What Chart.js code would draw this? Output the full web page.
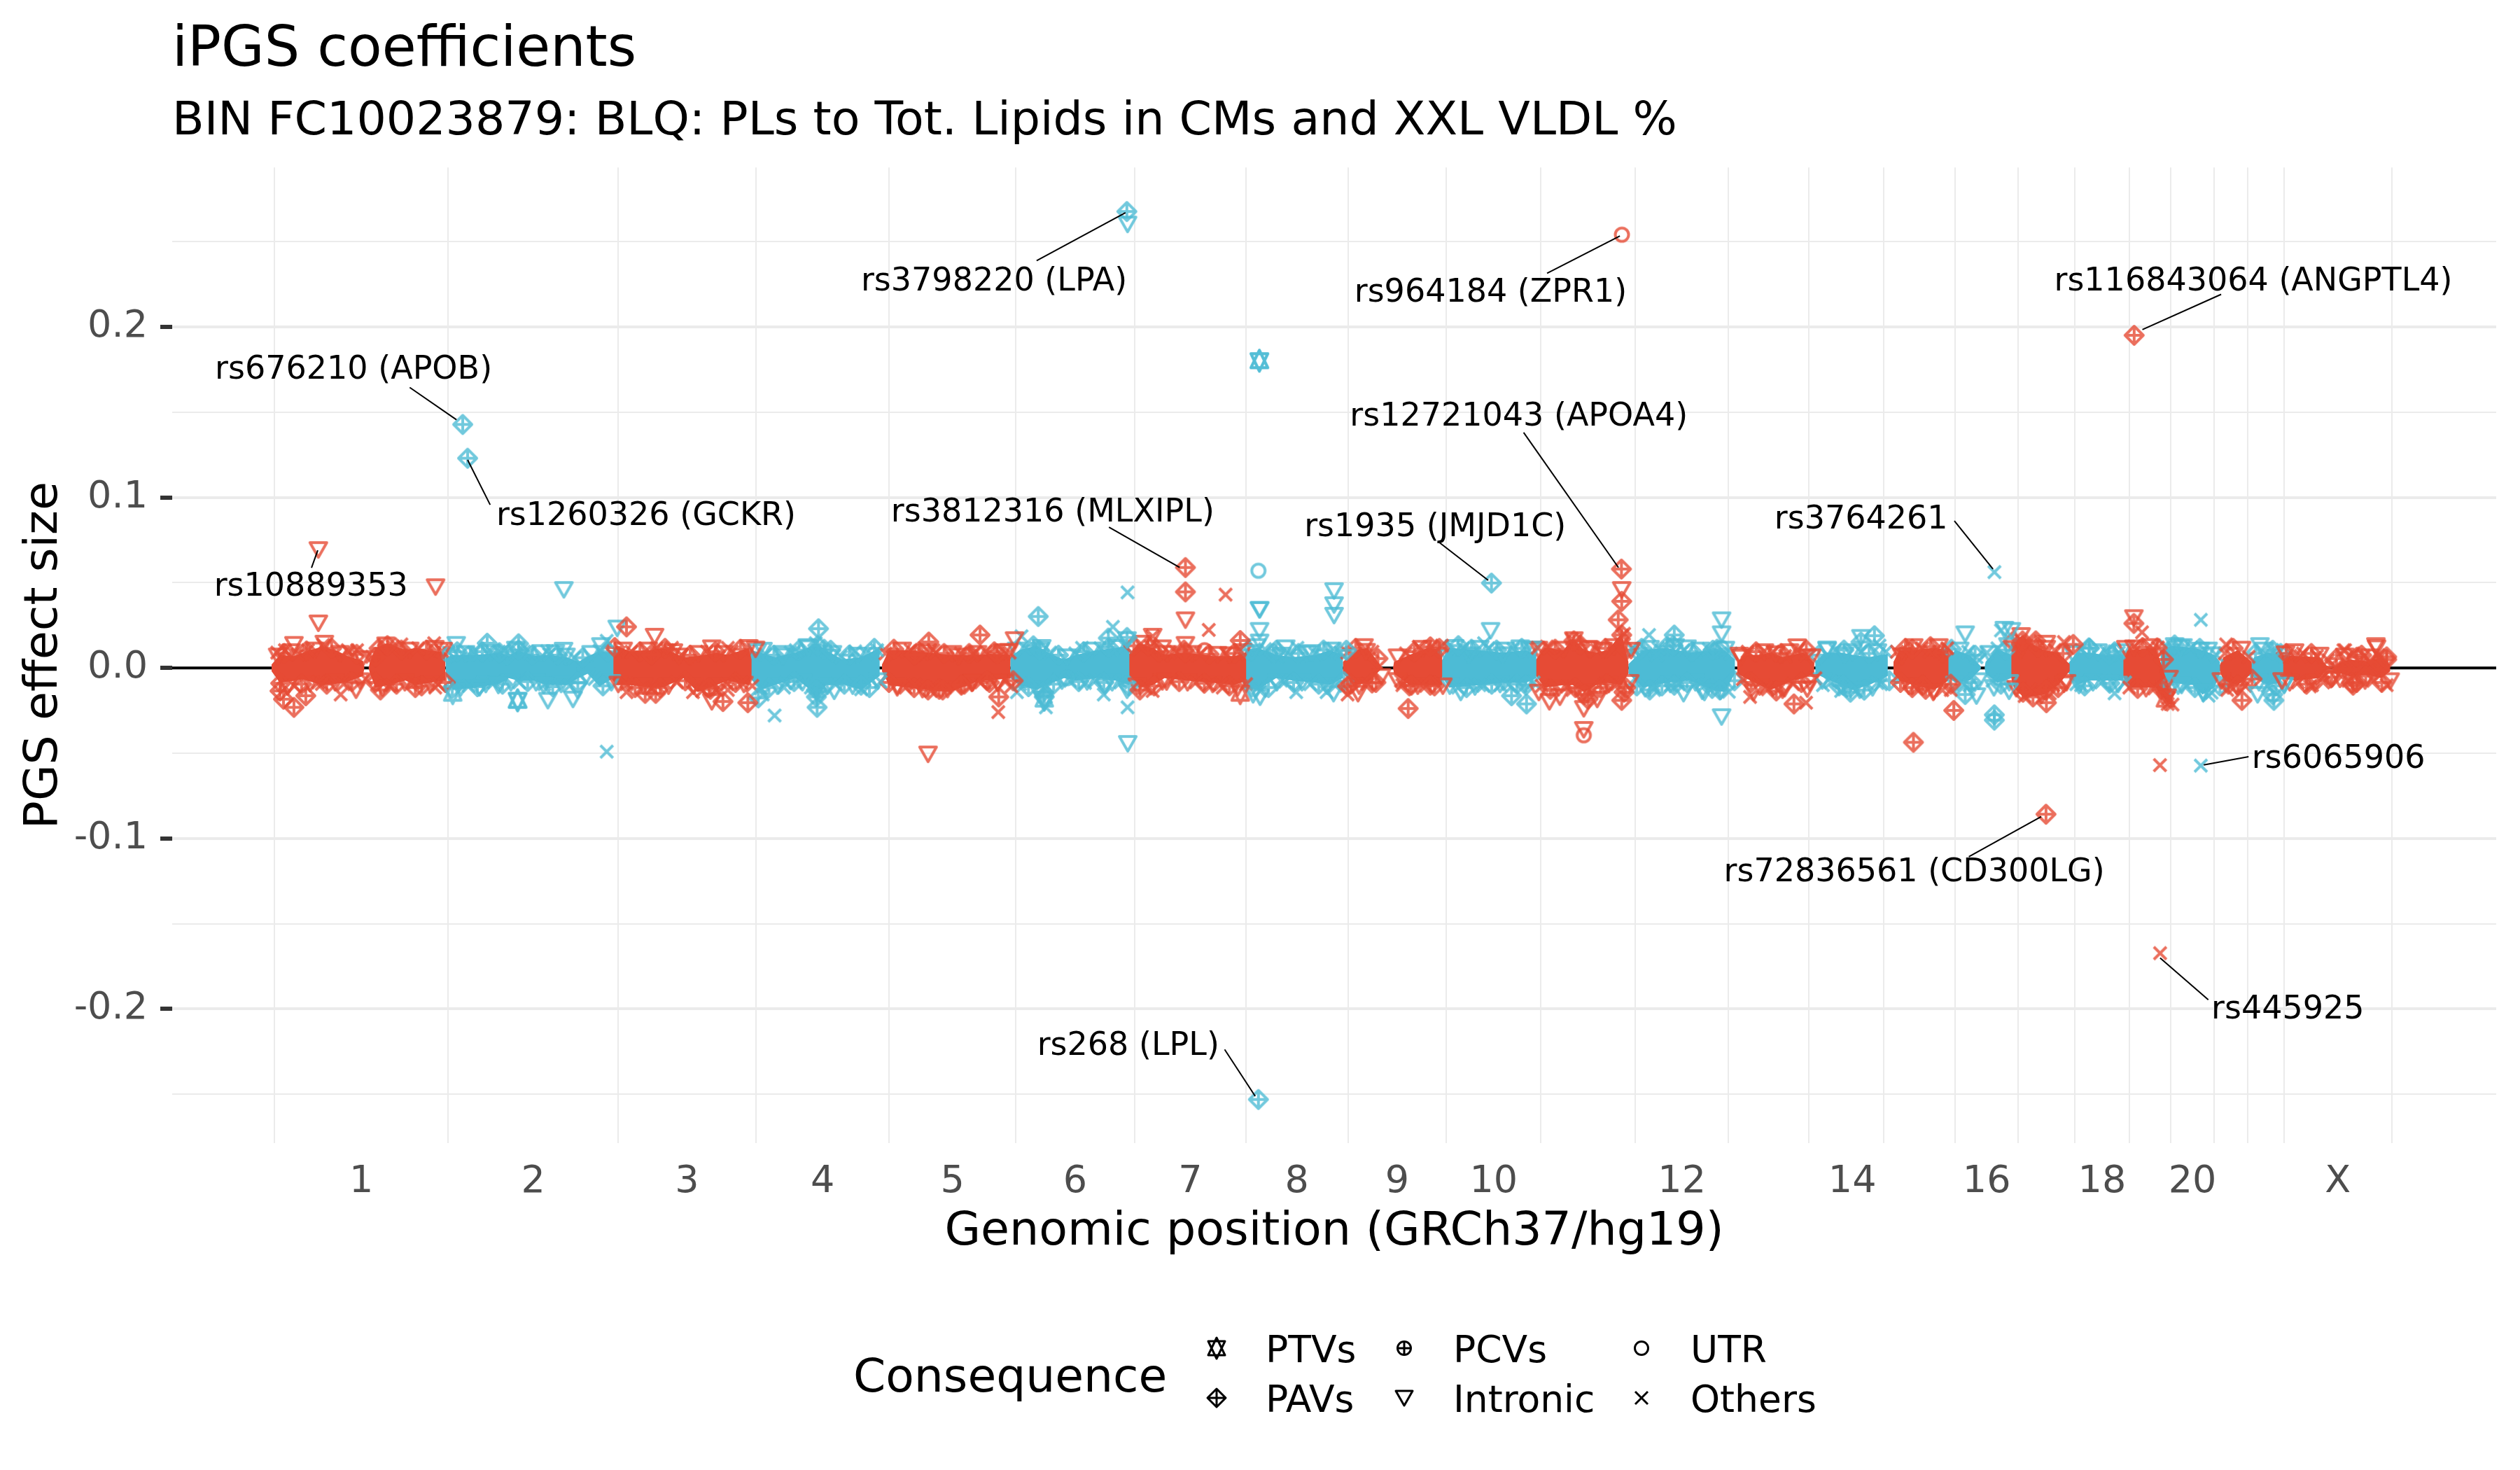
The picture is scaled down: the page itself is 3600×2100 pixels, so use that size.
<!DOCTYPE html>
<html>
<head>
<meta charset="utf-8">
<title>iPGS coefficients</title>
<script src="https://cdn.jsdelivr.net/npm/chart.js@4/dist/chart.umd.min.js"></script>
<style>
  html, body { margin: 0; padding: 0; background: #fff; }
  canvas { display: block; }
</style>
</head>
<body>
<canvas id="chart" width="3600" height="2100"></canvas>
<script>
// x is cumulative genomic position in Mb, y is PGS effect size

const chrBoundaries = [0, 249.25, 492.45, 690.5, 881.5, 1062.4, 1233.5, 1392.6, 1539, 1680, 1815.7,
  1950.7, 2084.6, 2199.7, 2307, 2409.5, 2499.9, 2581, 2659, 2718, 2781, 2829.2, 2880.5, 3035.8];
const chrLabels = ["1", "2", "3", "4", "5", "6", "7", "8", "9", "10", "12", "14", "16", "18", "20", "X"];
const chrLabelPos = [124.6, 370.9, 591.5, 786, 972, 1148, 1313, 1465.8, 1609.5, 1747.9, 2017.7, 2262, 2454.7, 2620, 2749.5, 2958];
const yTicks = [-0.25, -0.2, -0.15, -0.1, -0.05, 0, 0.05, 0.1, 0.15, 0.2, 0.25];
const zeroLineX = [-146.5, 3185];

// dense overplotted core of each chromosome: [pos, upper, lower]
const coreChr1 = [[-4, .002, -.002], [8, .0077, -.0088], [28, .007, -.0074], [41, .009, -.0067], [68, .0125, -.0101], [88, .0104, -.0094], [105, .007, -.0081], [127, .0042, -.0047], [129, 0, 0], [135, 0, 0], [137, .0036, -.0033], [145, .0118, -.0115], [162, .0145, -.0101], [188, .0104, -.0074], [202, .0118, -.0101], [222, .0104, -.0088], [245, .009, -.0074]];
const coreChr2 = [[245.5, .006, -.004], [255.6, .0077, -.0129], [289, .0077, -.0115], [322.5, .009, -.0094], [336, .007, -.006], [349, .0104, -.0074], [372.6, .007, -.0074], [389, .0077, -.0101], [419, .0063, -.0101], [436, .0036, -.006], [449.6, .007, -.0033], [466, .0097, -.0108], [486, .009, -.006]];
const coreChr3 = [[483, .008, -.006], [489.7, .0131, -.0101], [510, .0097, -.0101], [540, .0104, -.0115], [556.6, .0118, -.0115], [586.7, .0063, -.006], [606.8, .007, -.0142], [633.5, .009, -.0101], [650, .0077, -.0074], [680, .0118, -.0101], [684, .005, -.006]];
const coreChr4 = [[682, .0104, -.006], [697, .009, -.0129], [717, .0063, -.0101], [747, .009, -.006], [764, .0118, -.0115], [777, .0145, -.0183], [790.7, .0104, -.0101], [814, .005, -.0094], [841, .0063, -.0129], [867.7, .0118, -.0047]];
const coreChr5 = [[871, .002, -.002], [881, .0104, -.0101], [908, .0104, -.0115], [938, .009, -.0129], [968, .0077, -.0142], [1011.5, .0077, -.0074], [1025, .0083, -.0074], [1055, .0077, -.006]];
const coreChr6 = [[1055, .0063, -.006], [1068, .0104, -.0101], [1092, .0131, -.0129], [1115, .0077, -.0088], [1132, .005, -.006], [1149, .0077, -.0074], [1179, .0104, -.006], [1205.6, .0118, -.0074], [1225.6, .0131, -.0101]];
const coreChr7 = [[1224, .0077, -.0047], [1239, .0145, -.0115], [1259, .0118, -.0101], [1276, .0077, -.006], [1306, .009, -.0074], [1346, .007, -.0088], [1376, .007, -.0101], [1393, .009, -.0074]];
const coreChr8 = [[1381, .001, -.001], [1393, .0104, -.0115], [1409.6, .0118, -.0129], [1436, .0077, -.006], [1460, .0063, -.0074], [1493, .0077, -.0088], [1513, .0104, -.0101], [1531.7, .0077, -.006]];
const coreChr9 = [[1531.7, .0036, -.0033], [1550, .0104, -.0101], [1567, .0118, -.0088], [1587, .0008, -.0005], [1590, 0, 0], [1603.6, 0, 0], [1605, .0036, -.0033], [1627, .0077, -.0101], [1654, .0118, -.0101], [1674, .0104, -.0101]];
const coreChr10 = [[1670.5, .0022, -.0033], [1684, .0118, -.0115], [1727, .0104, -.0101], [1761, .009, -.0088], [1794, .0104, -.0088], [1809, .0077, -.006]];
const coreChr11 = [[1806, .0036, -.0033], [1821, .0118, -.0115], [1848, .0104, -.0101], [1861, .0172, -.0101], [1878, .0104, -.0142], [1894.6, .009, -.0101], [1911, .0104, -.0088], [1931, .02, -.0101], [1941, .0036, -.0033]];
const coreChr12 = [[1941, .0022, -.0033], [1961.5, .0104, -.0115], [1995, .0118, -.0088], [2028, .009, -.0074], [2062, .0104, -.0129], [2078.6, .0104, -.0142], [2093.7, .005, -.0033]];
const coreChr13 = [[2097, .0036, -.0033], [2109, .0077, -.006], [2129, .0077, -.0101], [2145.5, .009, -.0129], [2162, .0063, -.0101], [2175.6, .0077, -.0074], [2192, .009, -.006], [2207.4, .0029, -.0033]];
const coreChr14 = [[2209, .0036, -.0033], [2222.5, .009, -.006], [2246, .009, -.0101], [2262.6, .0077, -.0129], [2286, .0063, -.0101], [2312.8, .0083, -.0047]];
const coreChr15 = [[2321, .0036, -.0033], [2329.5, .0104, -.0074], [2349.6, .0104, -.0101], [2379.7, .0118, -.0129], [2399.8, .0104, -.0074]];
const coreChr16 = [[2396.4, .005, -.0047], [2409.8, .0104, -.0088], [2430, .0077, -.0074], [2445, .0015, -.0012], [2446.6, 0, 0], [2451.6, 0, 0], [2453, .0036, -.0033], [2470, .0111, -.0088], [2490, .0077, -.006]];
const coreChr17 = [[2486.7, .001, -.001], [2493.4, .0159, -.0115], [2506.8, .0193, -.017], [2516.8, .0145, -.017], [2536.8, .0104, -.0156], [2557, .009, -.0101], [2573.6, .0022, -.0019]];
const coreChr18 = [[2568, .0008, -.0005], [2583.7, .009, -.0101], [2600, .009, -.0074], [2623.8, .0077, -.0074], [2650.6, .0077, -.0074]];
const coreChr19 = [[2647, .0022, -.0019], [2657, .0104, -.0115], [2697, .0118, -.0115], [2705, .002, -.016], [2715, -.010, -.021], [2720, -.018, -.022]];
const coreChr20 = [[2704, .0077, -.006], [2717.5, .0131, -.0088], [2751, .0118, -.0101], [2764, .0104, -.0156], [2781, .0077, -.0115], [2789, .0036, -.0033]];
const coreChr21 = [[2787.7, .0008, -.0005], [2794, .0063, -.0074], [2814.5, .0104, -.0101], [2834.5, .0036, -.0033]];
const coreChr22 = [[2833, .0015, -.0015], [2838, .0063, -.006], [2858, .009, -.0101], [2874.7, .0077, -.0088], [2879.7, .0022, -.0033]];
const coreChrX = [[2874.7, .001, -.001], [2878, .0077, -.006], [2898, .007, -.0074], [2931.5, .0063, -.006], [2941.6, .0015, -.0012], [2951.6, 0, 0], [2960, .003, -.003], [2975, .005, -.005], [3000, .004, -.004], [3020, .006, -.006], [3033, .002, -.002]];
const coreChromosomes = [coreChr1, coreChr2, coreChr3, coreChr4, coreChr5, coreChr6, coreChr7, coreChr8, coreChr9, coreChr10, coreChr11, coreChr12,
  coreChr13, coreChr14, coreChr15, coreChr16, coreChr17, coreChr18, coreChr19, coreChr20, coreChr21, coreChr22, coreChrX];

// markers along the rim of each core: [pos, upper variant, lower variant]
const edgeRed = [
  [4, .009, -.009], [14, .0085, -.011], [24, .0095, -.0105], [34, .008, -.0095], [46, .010, -.009], [58, .0105, -.0085], [70, .0135, -.0095], [82, .0115, -.0085], [94, .0085, -.0095], [106, .0095, -.008], [118, .008, -.0075], [126, .0055, -.0065],
  [140, .0065, -.0085], [150, .0115, -.0115], [160, .0135, -.0105], [170, .0125, -.0095], [182, .0105, -.0085], [194, .0105, -.009], [206, .0115, -.0105], [218, .0105, -.0095], [230, .0115, -.0095], [240, .010, -.0085],
  [488, .012, -.0095], [500, .0105, -.0095], [512, .0095, -.0115], [524, .0095, -.0105], [536, .0105, -.012], [548, .0115, -.0115], [560, .0115, -.0105], [572, .0095, -.0085], [584, .0075, -.0075], [596, .0075, -.0105], [608, .0085, -.0135], [620, .0095, -.0125], [632, .0095, -.0105], [644, .0085, -.0095], [656, .0095, -.0085], [668, .011, -.0095], [680, .012, -.0105],
  [876, .0085, -.0085], [888, .011, -.0105], [900, .0105, -.0115], [912, .0105, -.0115], [924, .0095, -.0125], [936, .0095, -.0135], [948, .009, -.0125], [960, .0085, -.0125], [972, .0085, -.0115], [984, .0085, -.0095], [996, .0085, -.0085], [1008, .0085, -.0085], [1020, .0095, -.0085], [1032, .0095, -.0085], [1044, .0095, -.0075], [1054, .009, -.0075],
  [1232, .013, -.0105], [1244, .0145, -.012], [1256, .0125, -.0105], [1268, .0095, -.008], [1280, .0085, -.0075], [1292, .0095, -.008], [1304, .0105, -.0085], [1316, .0085, -.0085], [1328, .0085, -.009], [1340, .008, -.0095], [1352, .008, -.0095], [1364, .0085, -.0105], [1376, .0085, -.0115], [1388, .0095, -.0095],
  [1538, .009, -.0095], [1550, .0115, -.0105], [1562, .0125, -.0095], [1574, .0095, -.0085], [1582, .0055, -.005], [1610, .0065, -.0075], [1622, .0085, -.0105], [1634, .0095, -.0105], [1646, .0115, -.0105], [1658, .0125, -.0105], [1670, .0115, -.0105],
  [1812, .011, -.0105], [1824, .0125, -.0125], [1836, .011, -.0115], [1848, .011, -.011], [1860, .017, -.0115], [1872, .0135, -.014], [1884, .0115, -.014], [1896, .0105, -.0115], [1908, .0115, -.0095], [1920, .0125, -.0095], [1932, .019, -.0115], [1938, .0105, -.0085],
  [2100, .0075, -.0065], [2112, .0095, -.0085], [2124, .0095, -.011], [2136, .0095, -.0125], [2148, .0095, -.0135], [2160, .0085, -.012], [2172, .0095, -.0095], [2184, .0105, -.0085], [2196, .0105, -.0085], [2204, .0065, -.006],
  [2326, .0095, -.0085], [2338, .0115, -.0105], [2350, .0125, -.012], [2362, .0115, -.0125], [2374, .0125, -.0135], [2386, .0125, -.013], [2398, .0115, -.0095],
  [2492, .0155, -.012], [2504, .019, -.0165], [2516, .0155, -.017], [2528, .012, -.016], [2540, .0115, -.015], [2552, .0105, -.0115], [2564, .0085, -.0085],
  [2654, .0115, -.0115], [2666, .0125, -.012], [2678, .012, -.012], [2690, .0125, -.012], [2700, .012, -.0125], [2708, .005, -.017], [2716, -.006, -.0215],
  [2796, .0085, -.0095], [2808, .0115, -.0105], [2820, .011, -.0105], [2830, .0065, -.0065],
  [2884, .0085, -.0085], [2896, .0095, -.0085], [2908, .0085, -.0095], [2920, .0085, -.0085], [2932, .0075, -.0085], [2944, .0045, -.0055], [2956, .0055, -.0065], [2968, .007, -.0075], [2980, .0085, -.0085], [2992, .0075, -.0075], [3004, .0065, -.0075], [3016, .0075, -.0085], [3028, .0065, -.0075],
];
const edgeBlue = [
  [250, .009, -.012], [262, .0095, -.0115], [274, .0085, -.0105], [286, .009, -.011], [298, .0095, -.0095], [310, .009, -.0085], [322, .0095, -.0095], [334, .0075, -.0085], [346, .011, -.0085], [358, .0095, -.008], [370, .0075, -.0085], [382, .009, -.0095], [394, .008, -.011], [406, .0075, -.0095], [418, .007, -.0105], [430, .006, -.0085], [442, .006, -.0045], [454, .0085, -.0065], [466, .010, -.0105], [478, .0095, -.0085],
  [692, .0095, -.012], [704, .008, -.0115], [716, .0075, -.0105], [728, .0085, -.009], [740, .009, -.008], [752, .0105, -.0085], [764, .0125, -.0115], [776, .0145, -.014], [788, .011, -.0105], [800, .0085, -.0095], [812, .0065, -.0095], [824, .0075, -.0105], [836, .0075, -.0125], [848, .0085, -.0115], [860, .0115, -.0075],
  [1064, .0105, -.0095], [1076, .0115, -.011], [1088, .013, -.0125], [1100, .012, -.012], [1112, .009, -.0095], [1124, .0075, -.0075], [1136, .0065, -.0075], [1148, .0085, -.008], [1160, .0095, -.008], [1172, .0105, -.0075], [1184, .0115, -.0085], [1196, .012, -.0085], [1208, .012, -.0085], [1220, .0125, -.0105],
  [1396, .0105, -.012], [1408, .0125, -.0135], [1420, .011, -.0115], [1432, .0085, -.0085], [1444, .0075, -.008], [1456, .0075, -.0085], [1468, .0085, -.0085], [1480, .0085, -.0095], [1492, .0085, -.0095], [1504, .0105, -.0105], [1516, .0105, -.0105], [1528, .009, -.008],
  [1680, .0105, -.0105], [1692, .012, -.0115], [1704, .0115, -.0115], [1716, .011, -.011], [1728, .0115, -.0105], [1740, .0115, -.0095], [1752, .0105, -.0095], [1764, .0105, -.0095], [1776, .011, -.0095], [1788, .0115, -.0095], [1800, .0105, -.0085],
  [1948, .0105, -.0105], [1960, .0115, -.012], [1972, .0115, -.0115], [1984, .0115, -.0105], [1996, .0125, -.0095], [2008, .0125, -.0095], [2020, .0105, -.0085], [2032, .0095, -.0085], [2044, .0105, -.0105], [2056, .011, -.012], [2068, .011, -.0135], [2080, .011, -.014], [2088, .0085, -.0075],
  [2214, .0075, -.0075], [2226, .0105, -.0085], [2238, .0105, -.0105], [2250, .0105, -.012], [2262, .0095, -.0135], [2274, .0095, -.013], [2286, .0085, -.0115], [2298, .0095, -.0095], [2310, .0095, -.0075],
  [2404, .011, -.0095], [2416, .0105, -.0095], [2428, .0095, -.0085], [2438, .0075, -.0075], [2458, .0085, -.0075], [2470, .0115, -.0095], [2482, .0105, -.0085],
  [2578, .0085, -.0095], [2590, .0105, -.0105], [2602, .0115, -.0085], [2614, .0095, -.0085], [2626, .0095, -.009], [2638, .0095, -.0095], [2648, .0095, -.0085],
  [2712, .0125, -.0095], [2724, .0135, -.0105], [2736, .0125, -.0105], [2748, .012, -.0115], [2760, .0115, -.0145], [2772, .0105, -.0145], [2784, .0075, -.0105],
  [2840, .0085, -.0085], [2852, .0105, -.0105], [2864, .0105, -.0105], [2876, .0085, -.0095],
];
const edgeShapes = ["other", "pav", "intronic"];

// red chromosomes (odd, plus X): [pos, effect]
const redPAVs = [[28, -.0231], [13, -.0183], [8, -.0135], [45, -.0163], [162, .0131], [152, -.0129], [202, -.0115], [145, .0063],
  [504.8, .0241], [531.5, -.0149], [643, -.0197], [678.7, -.0204], [540, .0077], [623, -.0115], [546.6, -.0149],
  [938, .0152], [937, -.0129], [1011.5, .0193], [958, -.0129], [984.8, -.0101], [918, .0077], [1038.3, -.017], [1021.6, -.0074], [1036, .0083],
  [1306, .0589], [1306, .0446], [1384.5, .0161], [1240.7, -.0129], [1252.4, .0131], [1306, .009],
  [1625.3, -.0238], [1657.1, .0124], [1630, -.0101], [1657, -.0101], [1573.5, -.0088], [1538.4, -.0108],
  [1931, .058], [1931.4, .0391], [1926.4, .0282], [1931.4, .0193], [1931.4, -.019], [1934.7, -.0142], [1862.8, .0159], [1878, -.0156], [1883, -.0183], [1909.7, -.0094],
  [2178.3, -.0211], [2347.9, .0111], [2349.6, -.0436], [2407.4, -.0249], [2347.9, -.0115], [2391.4, .009], [2363, -.0101],
  [2539.6, -.0858], [2506, .0159], [2525, .0159], [2540.2, -.0204], [2506.7, -.0142], [2578.7, .0138], [2540, -.0129],
  [2666, .1951], [2665.6, .0261], [2699, .0118], [2820.5, -.019], [2814.5, -.0101],
  [2978.4, -.0088], [2985, .0063], [3015, .0036], [2965, -.0005], [2998, -.0047], [3028, .0049], [2979.8, -.0101]];
const redIntronic = [[63, .0694], [63, .0264], [231, .0476], [28, .0138], [71.6, .0145], [4.7, .007], [117, -.0129], [242, .0104],
  [545, .0186], [627, .0118], [689.7, .0111], [627, -.0197], [580, .007], [892.8, -.0115], [937, -.0505], [980.8, .007], [999.8, -.0088],
  [1061, .0166], [1053, .0097], [1000, -.0088], [1036.7, -.0088], [1306, .0282], [1306, .0138], [1259, .0186], [1272.5, .0118], [1369.5, .0077], [1279, -.0081],
  [1565, .0097], [1553.4, -.0149], [1610.3, -.0074], [1931.4, .046], [1862.8, .0166], [1886.2, .0111], [1877, -.0238], [1877, -.0361], [1827.7, -.0197], [1842.8, -.017], [1812.6, -.0142], [1896.3, -.0183], [1944.8, .0104], [1904.6, .0104],
  [2183, .0124], [2152, .0083], [2102, .0063], [2197.4, -.0122], [2120.4, -.0142], [2162, -.0129], [2378, -.0142], [2332.8, .007],
  [2540, .0145], [2565.3, -.0094], [2503, .0104], [2665.6, .0295], [2665.6, .0118], [2791, -.0074], [2883, .0083], [3013.5, .0118], [2948, -.0067], [2878, -.0074], [2950, -.006], [3012.5, .0131]];
const redOthers = [[95, -.0156], [105, .0104], [118.5, .0104], [68, -.0094], [48, .0104], [15, .0104], [229, .0145], [182, .0138], [168.6, -.0101], [230.5, -.0115],
  [504.8, -.0142], [563.3, .0104], [650, .0118], [600, -.0142], [650, -.0129], [633.5, -.0129], [670, -.0088], [570, .0118], [944.6, .0104], [1004.8, .009], [918, -.0101],
  [1037.7, -.0259], [1056.7, -.0108], [1001.5, .0083], [1363.5, .043], [1339.4, .0223], [1259, .0186], [1259, -.0135], [1339.4, -.0101], [1359.5, -.0115], [1282.5, .009],
  [1640.4, .0124], [1673.8, .0131], [1538.4, -.0156], [1617, -.0101], [1811, .0118], [1934.7, .02], [1861, -.0129], [1827.7, .0118],
  [2115.4, -.017], [2195.7, -.0204], [2112, .0083], [2155.6, -.0129], [2135.5, .0097], [2195.7, .0077], [2165.6, .007], [2138.8, -.0115], [2403, -.0129], [2373, .0097],
  [2565.3, .0152], [2516.8, -.0129], [2550, -.0101], [2677.3, .0209], [2714, -.0211], [2715.8, -.0176], [2703, -.057], [2703.2, -.1673], [2797.8, .0138], [2799.4, -.0129],
  [2968.4, .0104], [2918, -.0108], [2935, -.006], [2904.8, .007], [2995, .007], [2928, .007], [2948, .0015], [3005, .0036], [3028, -.0101], [2966, .0104], [2921, -.0101]];
const redUTR = [[1931.7, .2541], [1333.4, .0104], [1877, -.0395]];
const redPTVs = [[1384.5, -.0149], [2710.8, -.0183]];

// blue chromosomes (even): [pos, effect]
const bluePAVs = [[1222, .2677], [270, .1428], [277, .123], [305, .0145], [350, .0142], [350, .0104], [322.5, .009],
  [780, .023], [779, .0131], [777, -.0129], [777, -.017], [778, -.0231], [693.7, -.0176], [841, -.0101], [797.4, .0104],
  [1095, .0302], [1096.9, .0104], [1103.6, -.017], [1102, -.0142], [1195.5, .0175], [1222.3, .0179], [1410.6, -.2531], [1436.4, .0104], [1536.7, .0104],
  [1744.7, .0498], [1697.2, .0131], [1773.5, -.0163], [1794.9, -.0211], [1794, -.0101],
  [1954.8, .0097], [2006.7, .0193], [2005, .0131], [2006.7, -.0101], [1971.5, -.0129], [2062, .0104], [2072, -.0129],
  [2293.7, .0189], [2274.3, .0152], [2259.3, -.0142], [2249, -.0101], [2423.8, -.0156], [2465.6, -.0275], [2465.6, -.0306],
  [2601, .0118], [2630.5, .0077], [2864.6, .0104], [2866.3, -.019], [2864.6, -.0156]];
const blueIntronic = [[1223, .2603], [415, .046], [260.6, .0138], [392, -.019], [428, -.0183], [434.6, -.0129], [491.4, .0234], [468, .0131], [321, -.0101], [386, -.0101], [414.5, .0104], [402.8, .009], [294, -.0115],
  [765.7, .0118], [802.5, -.0135], [700.4, .0104], [728.9, .007], [1098, .0104], [1103.6, -.0204], [1190.5, -.0108], [1222.3, -.0129], [1222.3, .0166], [1223.3, -.0443],
  [1412.3, .0343], [1412.3, .0343], [1412.3, .022], [1412.3, .0152], [1401.3, .009], [1449.8, .0118], [1486.6, .009], [1413, -.017], [1403, -.0156], [1519, .0453], [1519, .0371], [1519, .0309], [1518.3, -.0149],
  [1743.4, .022], [1785.9, .0118], [1700.6, -.0142], [1804.3, .0111], [1712.3, .0077], [1760.8, .0077],
  [2074.6, .0282], [2074.6, .02], [2074.6, -.0286], [2020, -.0149], [2046.8, -.0135], [2025, .0118], [2050, -.0142],
  [2225.8, .0111], [2274.3, .0179], [2250.9, .0077], [2272.6, -.0129], [2423.8, .02], [2439.9, -.0163], [2465, -.0115], [2486.7, -.0135], [2480, .0227], [2490, .022], [2485, .0131],
  [2630.5, -.0088], [2587, -.0101], [2724, .0131], [2734, -.0101], [2764.3, -.0142], [2732.5, .0118], [2761, .0104], [2777.7, .0077], [2846.3, .0131], [2843, -.0156], [2881, -.0101]];
const blueOthers = [[476.4, .0159], [391, .0097], [329, .0104], [476.4, -.0491], [366, .009],
  [717, -.0279], [730.5, -.0115], [832.6, .0097], [864, .0104], [747.3, .0104], [700, -.0156], [869, -.0081], [747, -.0088],
  [1223, .0443], [1202, .0241], [1071, .0186], [1064.4, -.0142], [1157.7, .0118], [1106, -.0231], [1188.9, -.0156], [1223, -.0231], [1162, -.0088],
  [1464.8, -.0142], [1466.5, .0118], [1508.3, -.0142], [1443, -.0074], [1518.3, .0111], [1734, .0145], [1727.4, -.0101], [1757.5, -.0101],
  [1970.5, .0193], [1981.6, .0077], [1978, -.0129], [2001.7, -.0101], [2219.8, -.0101], [2301, .0131], [2297.7, -.0088], [2245.9, -.0135],
  [2465.7, .0562], [2475, .022], [2439.9, .0063], [2455, .009], [2430, -.0101], [2637.9, -.0149], [2643.9, .009], [2590, -.0101],
  [2761.6, .0282], [2761.6, -.0573], [2772.7, -.0163]];
const blueUTR = [[1410.6, .057], [250.6, .0077], [1136.3, -.006], [2074.6, .0118]];
const bluePTVs = [[1412, .1802], [1412, .1802], [348.6, -.019], [348.6, -.019], [255.6, -.0149], [1103.6, -.0183]];
const bluePCVs = [[280.7, .0083]];

// gene labels of the annotated variants
const annotTexts = ["rs3798220 (LPA)", "rs964184 (ZPR1)", "rs116843064 (ANGPTL4)", "rs676210 (APOB)", "rs1260326 (GCKR)", "rs10889353", "rs3812316 (MLXIPL)",
  "rs1935 (JMJD1C)", "rs12721043 (APOA4)", "rs3764261", "rs6065906", "rs72836561 (CD300LG)", "rs445925", "rs268 (LPL)"];
const annotAnchors = [[1031.6, .2276], [1743.5, .221], [2836.8, .2276], [113.5, .1758], [532.8, .09], [52.4, .0485], [1115.7, .0919],
  [1664, .0834], [1783.9, .1484], [2274.6, .0881], [2958.9, -.0523], [2350.7, -.1192], [2886.3, -.1993], [1224, -.221]];
const annotLeaderFrom = [[1220, .267], [1928.8, .2533], [2677.8, .1984], [261, .1456], [277, .122], [62.2, .069], [1297.7, .0589],
  [1740, .0514], [1926.7, .0589], [2463.6, .058], [2765.7, -.0569], [2532.7, -.0872], [2703.2, -.1701], [1406, -.2512]];
const annotLeaderTo = [[1092.7, .2389], [1824.4, .2315], [2790.7, .2191], [194, .1645], [309.3, .0957], [53.2, .0587], [1196.4, .0825],
  [1668.7, .074], [1790.8, .1381], [2408.3, .0862], [2830, -.0521], [2429, -.1107], [2772.3, -.1946], [1362.2, -.2238]];

const legendLabels = [["PTVs", "PAVs"], ["PCVs", "Intronic"], ["UTR", "Others"]];
const legendShapes = [["ptv", "pav"], ["pcv", "intronic"], ["utr", "other"]];

const RED = "#E64B35";
const BLUE = "#4DBBD5";
const FONT = "'DejaVu Sans'";

// ggplot shapes as canvas point styles
function makeMarker(shape, color, alpha, lineWidth) {
  const c = document.createElement("canvas");
  c.width = 40;
  c.height = 40;
  const g = c.getContext("2d");
  g.translate(20, 20);
  g.globalAlpha = alpha;
  g.strokeStyle = color;
  g.lineWidth = lineWidth;
  g.lineJoin = "round";
  g.beginPath();
  if (shape === "pav") {
    g.moveTo(0, -13); g.lineTo(13, 0); g.lineTo(0, 13); g.lineTo(-13, 0); g.closePath();
    g.moveTo(0, -13); g.lineTo(0, 13);
    g.moveTo(-13, 0); g.lineTo(13, 0);
  } else if (shape === "ptv") {
    g.moveTo(-12, -10); g.lineTo(12, -10); g.lineTo(0, 15); g.closePath();
    g.moveTo(-12, 10); g.lineTo(12, 10); g.lineTo(0, -15); g.closePath();
  } else if (shape === "pcv") {
    g.arc(0, 0, 9.5, 0, Math.PI * 2);
    g.moveTo(0, -9.5); g.lineTo(0, 9.5);
    g.moveTo(-9.5, 0); g.lineTo(9.5, 0);
  } else if (shape === "intronic") {
    g.moveTo(-12, -10); g.lineTo(12, -10); g.lineTo(0, 11); g.closePath();
  } else if (shape === "utr") {
    g.arc(0, 0, 9.5, 0, Math.PI * 2);
  } else {
    g.moveTo(-9, -9); g.lineTo(9, 9);
    g.moveTo(-9, 9); g.lineTo(9, -9);
  }
  g.stroke();
  return c;
}

function markerDataset(values, shape, color) {
  return {
    data: values.map((v) => ({ x: v[0], y: v[1] })),
    pointStyle: makeMarker(shape, color, 0.8, 4),
    pointRadius: 14,
    showLine: false,
    order: 1,
  };
}

// splits a rim list into upper and lower variants per shape
function edgeDatasets(edge, color) {
  return edgeShapes.map((shape, s) => {
    const picked = [];
    edge.forEach((e, i) => {
      if (i % 3 === s) picked.push([e[0], e[1]]);
      if ((i + 1) % 3 === s) picked.push([e[0] + 5, e[2]]);
    });
    return markerDataset(picked, shape, color);
  });
}

const datasets = [
  markerDataset(redPAVs, "pav", RED),
  markerDataset(redIntronic, "intronic", RED),
  markerDataset(redOthers, "other", RED),
  markerDataset(redUTR, "utr", RED),
  markerDataset(redPTVs, "ptv", RED),
  markerDataset(bluePAVs, "pav", BLUE),
  markerDataset(blueIntronic, "intronic", BLUE),
  markerDataset(blueOthers, "other", BLUE),
  markerDataset(blueUTR, "utr", BLUE),
  markerDataset(bluePTVs, "ptv", BLUE),
  markerDataset(bluePCVs, "pcv", BLUE),
  ...edgeDatasets(edgeRed, RED),
  ...edgeDatasets(edgeBlue, BLUE),
];

// core bands, closed as polygons: upper edge forward, lower edge back
coreChromosomes.forEach((stops, i) => {
  const upper = stops.map((s) => ({ x: s[0], y: s[1] }));
  const lower = stops.map((s) => ({ x: s[0], y: s[2] })).reverse();
  datasets.push({
    data: upper.concat(lower),
    showLine: true,
    fill: "shape",
    backgroundColor: i % 2 === 0 ? RED : BLUE,
    borderWidth: 0,
    pointRadius: 0,
    tension: 0,
    order: 2,
  });
});

datasets.push({
  data: zeroLineX.map((x) => ({ x: x, y: 0 })),
  showLine: true,
  borderColor: "#000",
  borderWidth: 4,
  pointRadius: 0,
  order: 3,
});

const annotationPlugin = {
  id: "annotations",
  afterDatasetsDraw(chart) {
    const { ctx, scales: { x, y } } = chart;
    ctx.save();
    ctx.strokeStyle = "#000";
    ctx.lineWidth = 2;
    annotLeaderFrom.forEach((from, i) => {
      const to = annotLeaderTo[i];
      ctx.beginPath();
      ctx.moveTo(x.getPixelForValue(from[0]), y.getPixelForValue(from[1]));
      ctx.lineTo(x.getPixelForValue(to[0]), y.getPixelForValue(to[1]));
      ctx.stroke();
    });
    ctx.fillStyle = "#000";
    ctx.font = "46px " + FONT;
    ctx.textAlign = "center";
    ctx.textBaseline = "middle";
    annotTexts.forEach((text, i) => {
      ctx.fillText(text, x.getPixelForValue(annotAnchors[i][0]), y.getPixelForValue(annotAnchors[i][1]) + 3);
    });
    ctx.restore();
  },
};

const legendPlugin = {
  id: "consequenceLegend",
  afterDraw(chart) {
    const ctx = chart.ctx;
    const rows = [1926, 1997];
    const markerX = [1738, 2006, 2345];
    const textX = [1808, 2076, 2415];
    ctx.save();
    ctx.fillStyle = "#000";
    ctx.textBaseline = "middle";
    ctx.textAlign = "left";
    ctx.font = "66.3px " + FONT;
    ctx.fillText("Consequence", 1219, 1971);
    ctx.font = "53.5px " + FONT;
    legendLabels.forEach((col, c) => {
      col.forEach((label, r) => {
        const marker = makeMarker(legendShapes[c][r], "#000", 1, 3);
        ctx.drawImage(marker, markerX[c] - 20, rows[r] - 20);
        ctx.fillText(label, textX[c], rows[r] + 6);
      });
    });
    ctx.restore();
  },
};

new Chart(document.getElementById("chart"), {
  type: "scatter",
  data: { datasets: datasets },
  plugins: [annotationPlugin, legendPlugin],
  options: {
    responsive: false,
    animation: false,
    devicePixelRatio: 1,
    layout: { padding: { left: 0, right: 34, top: 0, bottom: 297 } },
    plugins: {
      legend: { display: false },
      tooltip: { enabled: false },
      title: {
        display: true,
        text: "iPGS coefficients",
        align: "start",
        fullSize: false,
        color: "#000",
        font: { family: FONT, size: 79.5, weight: "normal" },
        padding: { top: 26, bottom: 0 },
      },
      subtitle: {
        display: true,
        text: "BIN FC10023879: BLQ: PLs to Tot. Lipids in CMs and XXL VLDL %",
        align: "start",
        fullSize: false,
        color: "#000",
        font: { family: FONT, size: 66.6, weight: "normal" },
        padding: { top: 13, bottom: 25 },
      },
    },
    scales: {
      x: {
        type: "linear",
        min: zeroLineX[0],
        max: zeroLineX[1],
        afterFit(axis) { axis.height = 170; },
        afterBuildTicks(axis) {
          axis.ticks = chrBoundaries.map((v) => ({ value: v })).concat(chrLabelPos.map((v) => ({ value: v })));
        },
        afterTickToLabelConversion(axis) {
          axis.ticks.forEach((t, i) => {
            const n = i - chrBoundaries.length;
            t.label = n >= 0 ? chrLabels[n] : "";
          });
        },
        border: { display: false },
        grid: {
          drawTicks: false,
          color: "#EBEBEB",
          lineWidth: (ctx) => (ctx.index < chrBoundaries.length ? 2 : 0),
        },
        ticks: {
          autoSkip: false,
          maxRotation: 0,
          minRotation: 0,
          padding: 24,
          color: "#4D4D4D",
          font: { family: FONT, size: 54 },
        },
        title: {
          display: true,
          text: "Genomic position (GRCh37/hg19)",
          color: "#000",
          font: { family: FONT, size: 66.6 },
          padding: { top: 0, bottom: 2 },
        },
      },
      y: {
        type: "linear",
        min: -0.2787,
        max: 0.2935,
        afterFit(axis) { axis.width = 246; },
        afterBuildTicks(axis) {
          axis.ticks = yTicks.map((v) => ({ value: v }));
        },
        border: { display: false },
        grid: {
          color: "#EBEBEB",
          lineWidth: (ctx) => (ctx.index % 2 === 1 ? 4 : 2),
          tickLength: 17,
          tickColor: (ctx) => (ctx.index % 2 === 1 ? "#333333" : "rgba(0,0,0,0)"),
          tickWidth: 6,
        },
        ticks: {
          autoSkip: false,
          padding: 18,
          color: "#4D4D4D",
          font: { family: FONT, size: 54 },
          callback(value, i) {
            return i % 2 === 1 ? value.toFixed(1) : "";
          },
        },
        title: {
          display: true,
          text: "PGS effect size",
          color: "#000",
          font: { family: FONT, size: 66.6 },
          padding: { top: 24, bottom: 0 },
        },
      },
    },
  },
});
</script>
</body>
</html>
